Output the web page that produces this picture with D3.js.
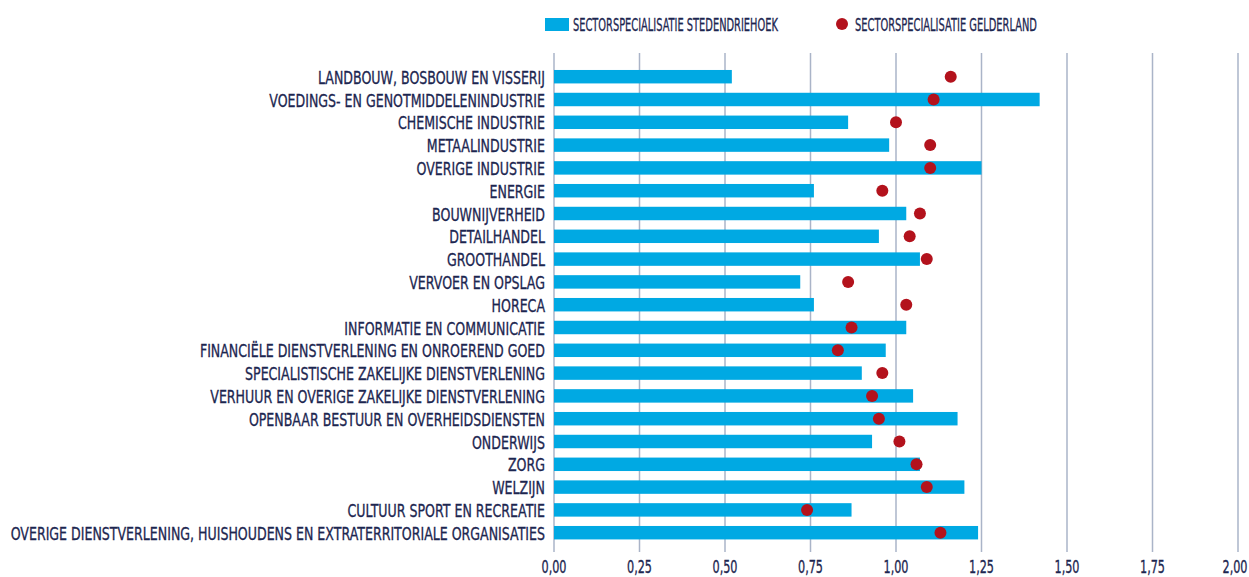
<!DOCTYPE html>
<html>
<head>
<meta charset="utf-8">
<script src="https://cdn.jsdelivr.net/npm/d3@7"></script>
<style>
  html, body { margin: 0; padding: 0; background: #fff; }
  svg text { font-family: "DejaVu Sans", "Noto Sans", sans-serif; fill: #1c2650; stroke: #1c2650; stroke-width: 0.35px; }
</style>
</head>
<body>
<svg id="chart" width="1249" height="577"></svg>
<script>
const sectors = [
  "LANDBOUW, BOSBOUW EN VISSERIJ",
  "VOEDINGS- EN GENOTMIDDELENINDUSTRIE",
  "CHEMISCHE INDUSTRIE",
  "METAALINDUSTRIE",
  "OVERIGE INDUSTRIE",
  "ENERGIE",
  "BOUWNIJVERHEID",
  "DETAILHANDEL",
  "GROOTHANDEL",
  "VERVOER EN OPSLAG",
  "HORECA",
  "INFORMATIE EN COMMUNICATIE",
  "FINANCIËLE DIENSTVERLENING EN ONROEREND GOED",
  "SPECIALISTISCHE ZAKELIJKE DIENSTVERLENING",
  "VERHUUR EN OVERIGE ZAKELIJKE DIENSTVERLENING",
  "OPENBAAR BESTUUR EN OVERHEIDSDIENSTEN",
  "ONDERWIJS",
  "ZORG",
  "WELZIJN",
  "CULTUUR SPORT EN RECREATIE",
  "OVERIGE DIENSTVERLENING, HUISHOUDENS EN EXTRATERRITORIALE ORGANISATIES"
];
const stedendriehoek = [0.52, 1.42, 0.86, 0.98, 1.25, 0.76, 1.03, 0.95, 1.07, 0.72, 0.76,
                        1.03, 0.97, 0.90, 1.05, 1.18, 0.93, 1.07, 1.20, 0.87, 1.24];
const gelderland = [1.16, 1.11, 1.00, 1.10, 1.10, 0.96, 1.07, 1.04, 1.09, 0.86, 1.03,
                    0.87, 0.83, 0.96, 0.93, 0.95, 1.01, 1.06, 1.09, 0.74, 1.13];
const ticks = [0, 0.25, 0.5, 0.75, 1, 1.25, 1.5, 1.75, 2];
const legendLabels = ["SECTORSPECIALISATIE STEDENDRIEHOEK", "SECTORSPECIALISATIE GELDERLAND"];

const barColor = "#00a9e3";
const dotColor = "#b3121c";
const gridColor = "#aab4c8";

const svg = d3.select("#chart");

const x = d3.scaleLinear().domain([0, 2]).range([554, 1238]);
const y = d3.scaleBand().domain(sectors).range([65.3, 544.1]).paddingInner(0.41).paddingOuter(0.205);

// horizontal squeeze via transform, so the font looks condensed like the original
function squeezeText(sel, px, py, sx) {
  sel.attr("x", 0).attr("y", 0)
    .attr("transform", (d, i) => `translate(${px(d, i)},${py(d, i)}) scale(${sx},1)`);
}

// grid
svg.append("g")
  .selectAll("line")
  .data(ticks)
  .join("line")
  .attr("x1", d => x(d)).attr("x2", d => x(d))
  .attr("y1", 53).attr("y2", 552)
  .attr("stroke", gridColor)
  .attr("stroke-width", 1.5);

// tick labels
const tickText = svg.append("g")
  .selectAll("text")
  .data(ticks)
  .join("text")
  .attr("text-anchor", "middle")
  .style("font-size", "18px")
  .text(d => d3.format(".2f")(d).replace(".", ","));
const tw = tickText.node().getComputedTextLength();
tickText.call(squeezeText, d => Math.min(x(d), 1235), () => 573, 25 / tw);

// bars
svg.append("g")
  .selectAll("rect")
  .data(sectors)
  .join("rect")
  .attr("x", x(0))
  .attr("y", d => y(d))
  .attr("width", (d, i) => x(stedendriehoek[i]) - x(0))
  .attr("height", y.bandwidth())
  .attr("fill", barColor);

// dots
svg.append("g")
  .selectAll("circle")
  .data(sectors)
  .join("circle")
  .attr("cx", (d, i) => x(gelderland[i]))
  .attr("cy", d => y(d) + y.bandwidth() / 2)
  .attr("r", 6)
  .attr("fill", dotColor);

// category labels
const lbl = svg.append("g")
  .selectAll("text")
  .data(sectors)
  .join("text")
  .attr("text-anchor", "end")
  .style("font-size", "18px")
  .text(d => d);

// fit the longest label to the width it has in the original (10 -> 545)
let maxW = 0;
lbl.each(function () { maxW = Math.max(maxW, this.getComputedTextLength()); });
lbl.call(squeezeText, () => 545, d => y(d) + y.bandwidth() / 2 + 7, 535 / maxW);

// legend
const legend = svg.append("g");
legend.append("rect")
  .attr("x", 545).attr("y", 18).attr("width", 24).attr("height", 13)
  .attr("fill", barColor);
legend.append("circle")
  .attr("cx", 842).attr("cy", 24).attr("r", 6)
  .attr("fill", dotColor);
const legendX = [573, 855];
const legendW = [205, 182];
legend.selectAll("text")
  .data(legendLabels)
  .join("text")
  .style("font-size", "17.5px")
  .text(d => d)
  .each(function (d, i) {
    const w = this.getComputedTextLength();
    d3.select(this).attr("transform", `translate(${legendX[i]},30.5) scale(${legendW[i] / w},1)`);
  });
</script>
</body>
</html>
